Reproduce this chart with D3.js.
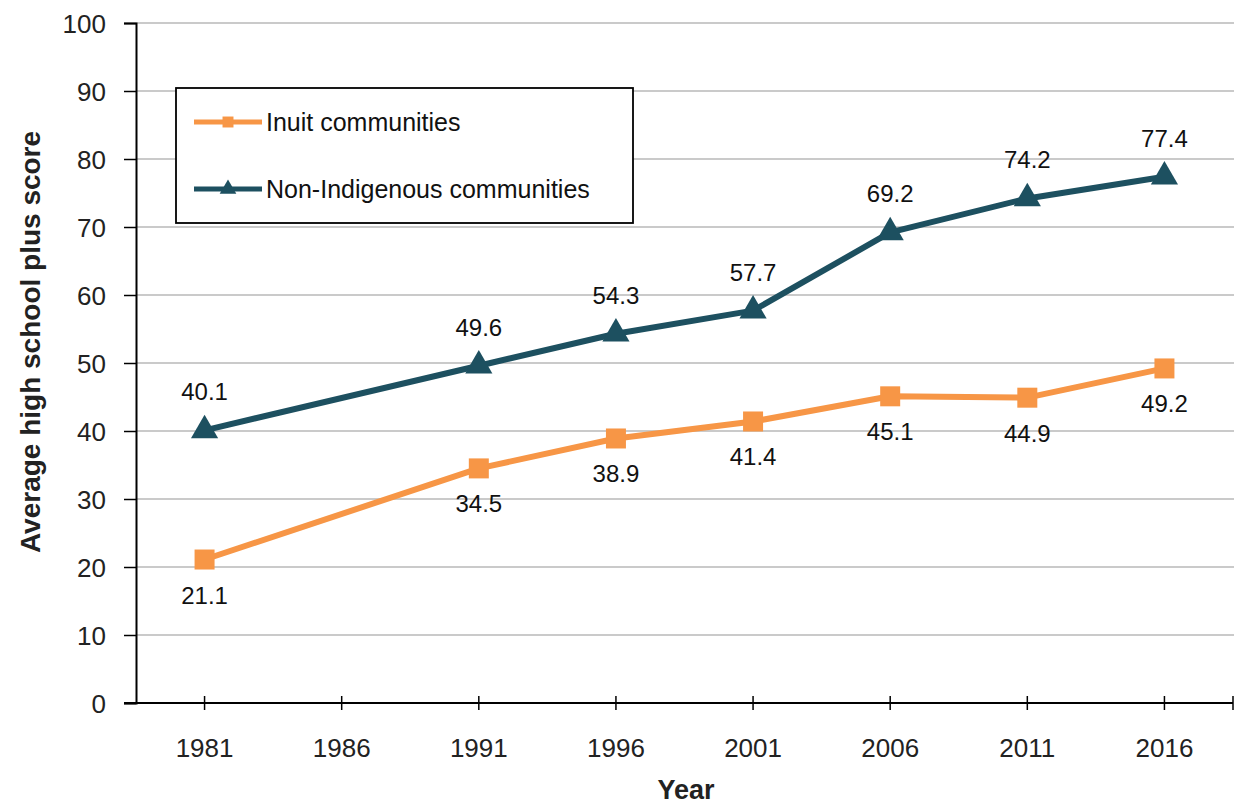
<!DOCTYPE html>
<html><head><meta charset="utf-8">
<script src="https://cdn.jsdelivr.net/npm/d3@7"></script>
<style>body{margin:0;background:#fff;} svg{display:block;font-family:"Liberation Sans",Arial,sans-serif;}</style>
</head><body>
<svg id="c" width="1236" height="807"></svg>
<script>
const years = ["1981","1986","1991","1996","2001","2006","2011","2016"];
const inuit = [21.1, null, 34.5, 38.9, 41.4, 45.1, 44.9, 49.2];
const nonIndigenous = [40.1, null, 49.6, 54.3, 57.7, 69.2, 74.2, 77.4];
const seriesNames = ["Inuit communities", "Non-Indigenous communities"];
const yTicks = [0,10,20,30,40,50,60,70,80,90,100];

const FONT = "'Liberation Sans',Arial,sans-serif";
const svg = d3.select("#c");
const x = d3.scaleBand().domain(years).range([136, 1233]);
const y = d3.scaleLinear().domain([0,100]).range([703, 23]);
const cx = d => x(d) + x.bandwidth()/2;

// gridlines
svg.append("g").selectAll("line").data(yTicks.filter(t=>t>0)).join("line")
  .attr("x1",136).attr("x2",1234).attr("y1",d=>y(d)).attr("y2",d=>y(d))
  .attr("stroke","#b8b8b8").attr("stroke-width",1.4);

// y axis
const yAxis = svg.append("g").attr("transform","translate(136,0)")
  .call(d3.axisLeft(y).tickValues(yTicks).tickSize(12).tickPadding(18));
yAxis.select(".domain").attr("stroke","#000").attr("stroke-width",2);
yAxis.selectAll(".tick line").attr("stroke","#000").attr("stroke-width",1.5);
yAxis.selectAll("text").attr("font-size",26).attr("fill","#222").attr("font-family",FONT).attr("dy","0.36em");

// x axis
const xAxis = svg.append("g").attr("transform","translate(0,703)")
  .call(d3.axisBottom(x).tickSize(0));
xAxis.select(".domain").remove();
xAxis.selectAll("text").attr("font-size",26).attr("fill","#222").attr("font-family",FONT).attr("y",54).attr("dy",0);
svg.append("line").attr("x1",124).attr("x2",1233).attr("y1",703).attr("y2",703).attr("stroke","#000").attr("stroke-width",2);
svg.append("g").selectAll("line").data(years).join("line")
  .attr("x1",d=>cx(d)).attr("x2",d=>cx(d)).attr("y1",696).attr("y2",710).attr("stroke","#000").attr("stroke-width",1.5);
svg.append("line").attr("x1",1233).attr("x2",1233).attr("y1",696).attr("y2",710).attr("stroke","#000").attr("stroke-width",1.5);

// axis titles
svg.append("text").attr("transform","translate(40,342) rotate(-90)").attr("text-anchor","middle")
  .attr("font-size",28).attr("font-weight","bold").attr("fill","#222").text("Average high school plus score");
svg.append("text").attr("x",686).attr("y",799).attr("text-anchor","middle")
  .attr("font-size",27).attr("font-weight","bold").attr("fill","#222").text("Year");

const orange = "#F79646", teal = "#1D5060";
function series(vals, color, shape, labelDy){
  const pts = years.map((yr,i)=>({yr, v: vals[i]})).filter(d=>d.v!=null);
  svg.append("path").datum(pts)
    .attr("d", d3.line().x(d=>cx(d.yr)).y(d=>y(d.v)))
    .attr("fill","none").attr("stroke",color).attr("stroke-width",6).attr("stroke-linejoin","round");
  const sym = d3.symbol().type(shape).size(shape===d3.symbolSquare ? 400 : 320);
  svg.append("g").selectAll("path").data(pts).join("path")
    .attr("transform", d=>`translate(${cx(d.yr)},${y(d.v)})`)
    .attr("d", sym).attr("fill",color);
  svg.append("g").selectAll("text").data(pts).join("text")
    .attr("x", d=>cx(d.yr)).attr("y", d=>y(d.v)+labelDy)
    .attr("text-anchor","middle").attr("font-size",24).attr("fill","#111").text(d=>d.v.toFixed(1));
}
series(inuit, orange, d3.symbolSquare, 44);
series(nonIndigenous, teal, d3.symbolTriangle, -30);

// legend
svg.append("rect").attr("x",176).attr("y",88).attr("width",457).attr("height",135)
  .attr("fill","#fff").attr("stroke","#000").attr("stroke-width",1.8);
const leg = [{n:seriesNames[0], c:orange, s:d3.symbolSquare, yy:122},{n:seriesNames[1], c:teal, s:d3.symbolTriangle, yy:189}];
leg.forEach(l=>{
  svg.append("line").attr("x1",194).attr("x2",262).attr("y1",l.yy).attr("y2",l.yy).attr("stroke",l.c).attr("stroke-width",5);
  svg.append("path").attr("transform",`translate(228,${l.yy})`).attr("d",d3.symbol().type(l.s).size(120)()).attr("fill",l.c);
  svg.append("text").attr("x",266).attr("y",l.yy+9).attr("font-size",25).attr("fill","#111").text(l.n);
});
</script>
</body></html>
